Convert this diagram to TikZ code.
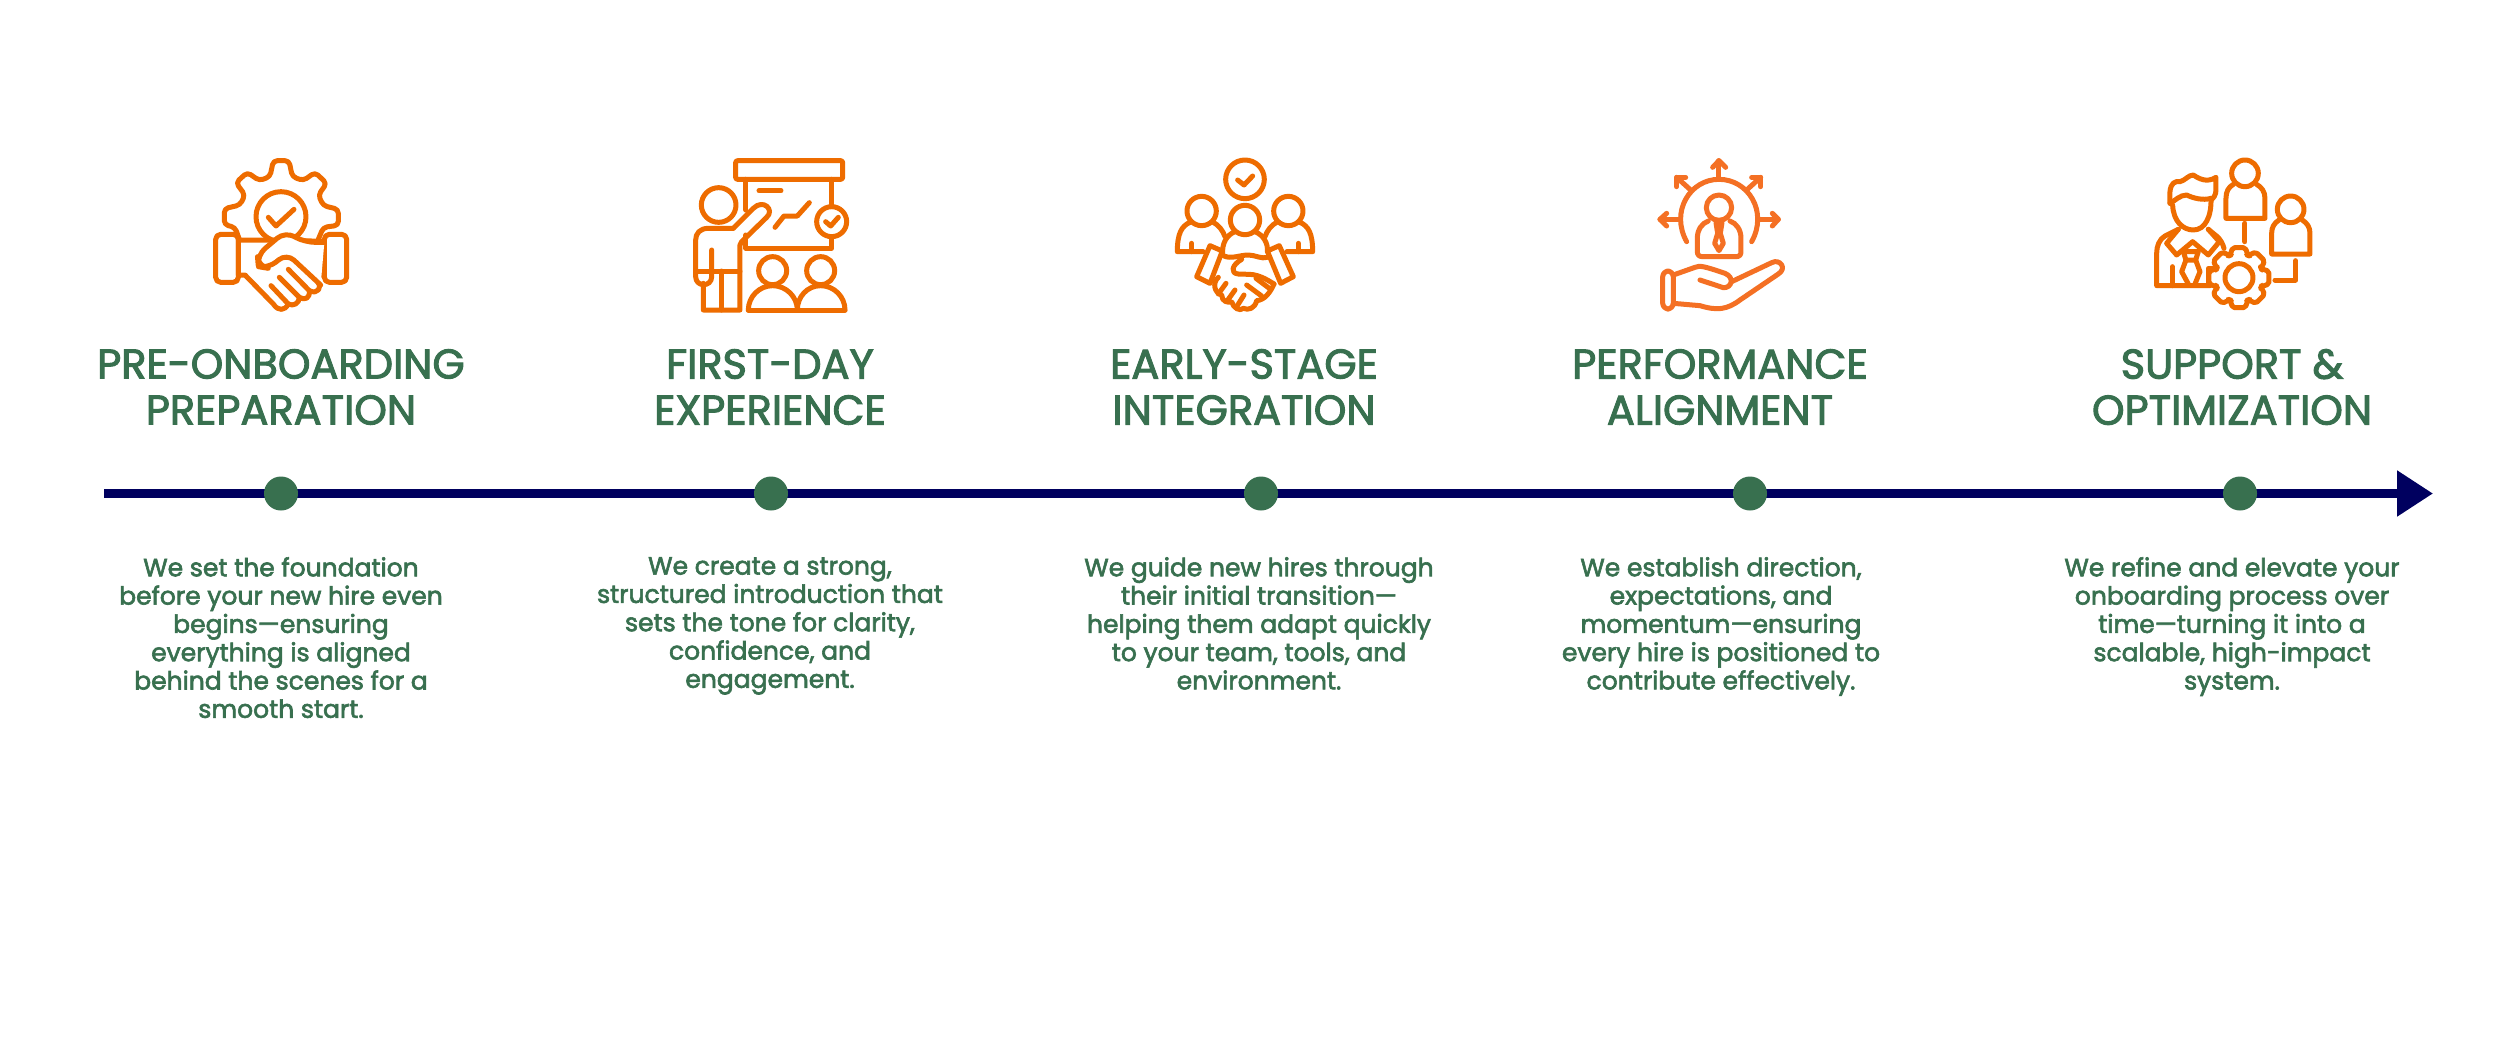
\documentclass[tikz,border=0pt]{standalone}
\usepackage{xcolor}
\usepackage{fontspec}
\setmainfont[FakeBold=2.4]{Poppins}
\usepackage{tikz}
\usetikzlibrary{
  arrows.meta,
  positioning,
  calc
}
\definecolor{tlGreen}{HTML}{38704F}
\definecolor{tlNavy}{HTML}{00005F}
\definecolor{tlOrange}{HTML}{EE6C00}
\definecolor{tlCoral}{HTML}{F47024}
\tikzset{
  timeline/.style={-{Triangle[length=36pt, width=44pt]}, line width=8.5pt, tlNavy},
  stopdot/.style={circle, fill=tlGreen, minimum size=34pt, inner sep=0pt},
  headline/.style={font=\fontsize{41.5}{46}\selectfont, text=tlGreen, align=center, inner sep=0pt},
  blurb/.style={font=\fontsize{25}{28.3}\selectfont, text=tlGreen, align=center, inner sep=0pt, anchor=north},
  iconline/.style={draw=tlOrange, line width=5pt, line join=round, line cap=round},
  icon/.style={x=1pt, y=-1pt, scale=1/3}
}
\begin{document}
\begin{tikzpicture}[x=1pt, y=-1pt]
  \useasboundingbox[fill=white] (0,0) rectangle (2500,1042);
  % timeline
  \coordinate (lineStart) at (104,493.5);
  \coordinate (lineTip) at (2433,493.5);
  \draw[timeline] (lineStart) -- (lineTip);
  \foreach \x/\n in {281/1, 771/2, 1261/3, 1750/4, 2240/5}
    \node[stopdot] (dot\n) at (\x,493.5) {};
  % headings
  \node[headline] (head1) at (281,387) {PRE-ONBOARDING\\PREPARATION};
  \node[headline] (head2) at (770,387) {FIRST-DAY\\EXPERIENCE};
  \node[headline] (head3) at (1244,387) {EARLY-STAGE\\INTEGRATION};
  \node[headline] (head4) at (1720,387) {PERFORMANCE\\ALIGNMENT};
  \node[headline] (head5) at (2232,387) {SUPPORT \&\\OPTIMIZATION};
  % descriptions
  \node[blurb] (text1) at (281,557) {We set the foundation\\before your new hire even\\begins—ensuring\\everything is aligned\\behind the scenes for a\\smooth start.};
  \node[blurb] (text2) at (770,557) {We create a strong,\\structured introduction that\\sets the tone for clarity,\\confidence, and\\engagement.};
  \node[blurb] (text3) at (1259,557) {We guide new hires through\\their initial transition—\\helping them adapt quickly\\to your team, tools, and\\environment.};
  \node[blurb] (text4) at (1721,557) {We establish direction,\\expectations, and\\momentum—ensuring\\every hire is positioned to\\contribute effectively.};
  \node[blurb] (text5) at (2232,557) {We refine and elevate your\\onboarding process over\\time—turning it into a\\scalable, high-impact\\system.};
  % icon 1: gear and handshake
  \begin{scope}[icon, shift={(570,420)}, iconline]
    \draw[rounded corners=4pt] (148,298) -- (135,262) -- (103,254) -- (103,206) -- (150,195) -- (165,165) -- (138,128) -- (172,97) -- (208,122) -- (240,110) -- (250,62) -- (297,62) -- (307,110) -- (340,122) -- (375,97) -- (410,130) -- (385,165) -- (400,197) -- (445,208) -- (445,256) -- (400,262) -- (385,298);
    \draw (273,230) circle[radius=75];
    \draw (235,232) -- (258,258) -- (312,208);
    \draw[fill=white, rounded corners=5pt] (77,283) rectangle (145,427);
    \draw[fill=white, rounded corners=5pt] (403,283) rectangle (470,427);
    \draw[fill=white] (145,300) -- (250,300) -- (403,304) -- (403,405) -- (372,405) -- (385,428) .. controls (395,440) and (385,465) .. (358,452) .. controls (360,475) and (345,482) .. (328,472) .. controls (328,490) and (310,500) .. (295,492) .. controls (285,512) and (265,515) .. (250,492) -- (165,405) -- (145,405) -- cycle;
    \draw[fill=white, rounded corners=10pt] (403,307) -- (345,307) -- (285,275) -- (202,345) -- (205,380) -- (235,385) -- (290,340) -- (392,435);
    \draw (243,437) -- (295,492);
    \draw (268,412) -- (328,472);
    \draw (295,388) -- (358,452);
  \end{scope}
  % icon 2: presenter at a board
  \begin{scope}[icon, shift={(1980,420)}, iconline]
    \draw[rounded corners=2pt] (227,62) rectangle (548,118);
    \draw (258,118) -- (258,210);
    \draw (258,285) -- (258,325) -- (515,325) -- (515,290);
    \draw (515,118) -- (515,200);
    \draw (515,245) circle[radius=45];
    \draw (497,245) -- (512,258) -- (535,232);
    \draw (297,152) -- (363,152);
    \draw (345,262) -- (372,228) -- (412,228) -- (448,188);
    \draw (176,195) circle[radius=52];
    \draw (220,265) -- (280,205) .. controls (310,175) and (345,210) .. (320,232) -- (245,305) -- (240,315) -- (240,510) -- (130,510) -- (130,430);
    \draw (220,265) -- (145,265) .. controls (120,265) and (107,280) .. (107,300) -- (107,410) .. controls (107,442) and (155,442) .. (155,410) -- (155,330);
    \draw (110,393) -- (240,393);
    \draw (185,393) -- (185,510);
    \draw (338,392) circle[radius=42];
    \draw (482,392) circle[radius=42];
    \draw (265,510) -- (555,510);
    \draw (265,510) .. controls (265,470) and (298,437) .. (338,437) .. controls (378,437) and (412,470) .. (412,510);
    \draw (412,510) .. controls (412,470) and (442,437) .. (482,437) .. controls (522,437) and (555,470) .. (555,510);
  \end{scope}
  % icon 3: team and handshake
  \begin{scope}[icon, shift={(3450,420)}, iconline]
    \draw (285,118) circle[radius=58];
    \draw (263,120) -- (282,135) -- (308,108);
    \draw (155,213) circle[radius=44];
    \draw (415,213) circle[radius=44];
    \draw (285,240) circle[radius=44];
    \draw (120,247) .. controls (95,258) and (82,280) .. (82,335) -- (160,335);
    \draw (190,247) .. controls (205,255) and (218,270) .. (225,290);
    \draw (125,310) -- (125,335);
    \draw (450,247) .. controls (475,258) and (488,280) .. (488,335) -- (410,335);
    \draw (380,247) .. controls (365,255) and (352,270) .. (345,290);
    \draw (445,310) -- (445,335);
    \draw (255,275) .. controls (230,285) and (215,310) .. (218,345);
    \draw (315,275) .. controls (340,285) and (355,310) .. (352,335);
    \draw (180,317) -- (217,333) -- (180,430) -- (140,410) -- cycle;
    \draw (388,317) -- (352,333) -- (392,430) -- (430,410) -- cycle;
    \draw (222,348) .. controls (245,358) and (270,345) .. (295,345) .. controls (315,345) and (335,358) .. (352,352);
    \draw (275,358) .. controls (245,375) and (240,400) .. (265,402) .. controls (300,405) and (315,395) .. (372,432);
    \draw (205,412) .. controls (185,430) and (195,460) .. (215,465) .. controls (215,485) and (235,490) .. (245,485) .. controls (250,505) and (270,515) .. (280,505) .. controls (295,512) and (315,505) .. (320,482) .. controls (345,480) and (362,455) .. (372,432);
    \draw (228,430) -- (205,462);
    \draw (255,450) -- (232,482);
    \draw (282,465) -- (262,497);
    \draw (318,415) -- (358,445);
    \draw (290,435) -- (335,468);
  \end{scope}
  % icon 4: person held in a hand
  \begin{scope}[icon, shift={(4920,420)}, iconline, draw=tlCoral]
    \draw (140,305) .. controls (90,215) and (150,118) .. (237,118) .. controls (325,118) and (385,215) .. (335,305);
    \draw (237,115) -- (237,62);
    \draw (218,82) -- (237,62) -- (257,82);
    \draw (320,150) -- (362,112);
    \draw (335,112) -- (362,112) -- (362,140);
    \draw (152,150) -- (110,112);
    \draw (137,112) -- (110,112) -- (110,140);
    \draw (357,238) -- (415,238);
    \draw (397,220) -- (415,238) -- (397,258);
    \draw (115,238) -- (60,238);
    \draw (80,220) -- (60,238) -- (80,258);
    \draw (237,203) circle[radius=38];
    \draw (205,243) .. controls (185,250) and (172,270) .. (172,295) -- (172,335) .. controls (172,345) and (178,350) .. (188,350) -- (288,350) .. controls (298,350) and (303,345) .. (303,335) -- (303,295) .. controls (303,270) and (290,250) .. (270,243);
    \draw (228,248) -- (246,248) -- (241,280) -- (250,310) -- (237,332) -- (224,310) -- (233,280) -- cycle;
    \draw[rounded corners=6pt] (68,393) rectangle (100,507);
    \draw (100,405) -- (165,382) .. controls (180,376) and (190,378) .. (255,400) .. controls (285,412) and (275,445) .. (250,443) -- (180,420);
    \draw (275,425) -- (395,368) .. controls (420,355) and (442,385) .. (415,402) -- (300,480) .. controls (260,510) and (230,512) .. (180,497) -- (100,490);
  \end{scope}
  % icon 5: manager, gear and team
  \begin{scope}[icon, shift={(6390,420)}, iconline]
    \draw (345,100) circle[radius=40];
    \draw (310,133) .. controls (295,142) and (288,155) .. (288,175) -- (288,235) -- (405,235) -- (405,175) .. controls (405,155) and (395,142) .. (380,133);
    \draw (482,208) circle[radius=40];
    \draw (447,240) .. controls (432,250) and (425,262) .. (425,280) -- (425,342) -- (540,342) -- (540,280) .. controls (540,262) and (532,250) .. (517,240);
    \draw (345,250) -- (345,305);
    \draw (497,362) -- (497,420) -- (435,420);
    \draw (120,190) -- (120,155) .. controls (122,130) and (135,122) .. (150,125) .. controls (165,122) and (175,105) .. (190,105) .. controls (205,115) and (230,130) .. (258,112) -- (258,150) .. controls (258,165) and (250,175) .. (243,180);
    \draw (120,190) .. controls (135,182) and (150,165) .. (170,165) .. controls (190,175) and (220,182) .. (243,175);
    \draw (128,195) .. controls (130,245) and (160,270) .. (190,270) .. controls (225,270) and (245,230) .. (243,175);
    \draw (145,268) -- (105,288) .. controls (88,298) and (80,318) .. (80,340) -- (80,437) -- (240,437);
    \draw (235,268) -- (262,290) .. controls (272,300) and (278,310) .. (282,325);
    \draw (145,268) -- (110,310) -- (140,345) -- (188,305) -- (235,345) -- (268,305) -- (235,268);
    \draw (160,335) -- (205,335) -- (197,360) -- (168,360) -- cycle;
    \draw (168,360) -- (155,395) -- (175,432);
    \draw (197,360) -- (210,395) -- (195,432);
    \draw (127,380) -- (127,437);
    \draw (235,432) -- (235,385) -- (255,385);
    \begin{scope}[shift={(327,413)}]
      \draw[fill=white, rounded corners=2pt] (-22:72) \foreach \a in {0,45,...,315} {
        -- ({\a-22}:72) -- ({\a-12}:92) -- ({\a+12}:92) -- ({\a+22}:72) } -- cycle;
      \draw (0,0) circle[radius=42];
    \end{scope}
  \end{scope}
\end{tikzpicture}
\end{document}
